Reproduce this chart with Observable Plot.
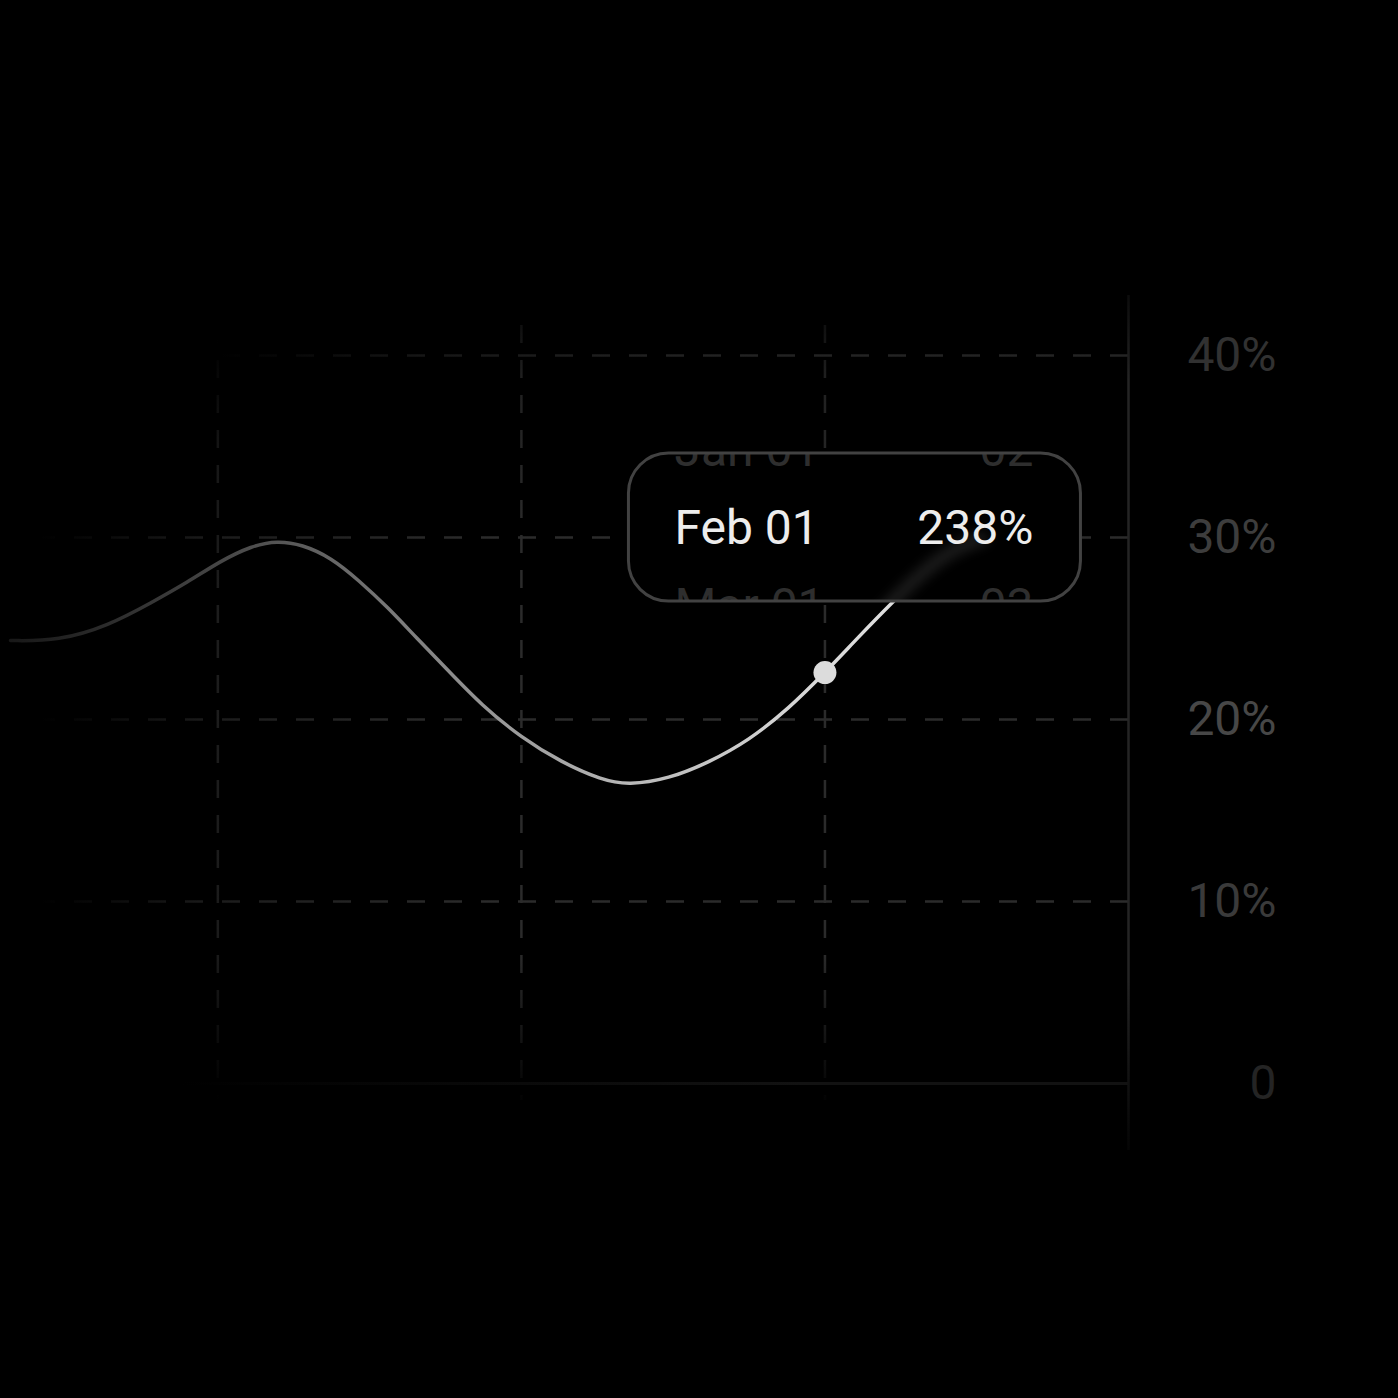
<!DOCTYPE html>
<html>
<head>
<meta charset="utf-8">
<script src="https://cdn.jsdelivr.net/npm/d3@7"></script>
<script src="https://cdn.jsdelivr.net/npm/@observablehq/plot@0.6"></script>
<style>
  html, body { margin: 0; padding: 0; background: #000; }
  #chart svg { display: block; }
</style>
</head>
<body>
<div id="chart"></div>
<script>
// ---- data (month index: 1 = Dec 01, 2 = Jan 01, 3 = Feb 01, 4 = Mar 01) ----
const monthPos = [0.317, 0.475, 0.640, 0.782, 0.901, 1.007, 1.112, 1.195, 1.277, 1.373, 1.465, 1.561, 1.653, 1.759, 1.868, 2.000, 2.132, 2.264, 2.353, 2.485, 2.617, 2.749, 2.881, 3.000, 3.112, 3.221, 3.337, 3.436, 3.535];
const values   = [0.2434, 0.2432, 0.2516, 0.2643, 0.2755, 0.2870, 0.2955, 0.2982, 0.2962, 0.2890, 0.2764, 0.2615, 0.2451, 0.2269, 0.2080, 0.1900, 0.1765, 0.1668, 0.1640, 0.1674, 0.1764, 0.1885, 0.2060, 0.2258, 0.2456, 0.2643, 0.2830, 0.2945, 0.3000];
const gridMonths = [1, 2, 3];
const axisMonth = 4;
const xDomain = [0.284, 4];
const yDomain = [-0.0368, 0.433];
const yTicks = [0, 0.1, 0.2, 0.3, 0.4];
const yTickLabels = ["0", "10%", "20%", "30%", "40%"];
const yTickColors = ["#242424", "#3a3a3a", "#474747", "#3d3d3d", "#313131"];
const focusMonth = 3;
const focusValue = 0.2258;
const tooltipDates = ["Jan 01", "Feb 01", "Mar 01"];
const tooltipValues = ["02", "238%", "03"];
const tooltipActive = 1;

const data = monthPos.map((m, i) => ({m, v: values[i]}));
const tickData = yTicks.map((t, i) => ({t, label: yTickLabels[i], color: yTickColors[i]}));
const topTick = yTicks[yTicks.length - 1];
const innerTicks = yTicks.filter(t => t > 0 && t < topTick);

const FONT = "Roboto, 'Noto Sans', sans-serif";

function addGradient(defs, id, attrs, stops) {
  const g = defs.append("linearGradient").attr("id", id).attr("gradientUnits", "userSpaceOnUse");
  Object.entries(attrs).forEach(([k, v]) => g.attr(k, v));
  stops.forEach(([o, c]) => g.append("stop").attr("offset", o).attr("stop-color", c));
}

function defsMark() {
  const defs = d3.create("svg:defs");
  const W = 1398;
  addGradient(defs, "lineGrad", {x1: 0, x2: 1000, y1: 0, y2: 0},
    [[0, "#161616"], [0.1, "#2a2a2a"], [0.28, "#555555"], [0.45, "#8c8c8c"], [0.63, "#b8b8b8"], [0.82, "#dadada"], [1, "#e6e6e6"]]);
  addGradient(defs, "axisGrad", {x1: 0, x2: 0, y1: 295, y2: 1150},
    [[0, "#0c0c0c"], [0.1, "#242424"], [0.8, "#242424"], [1, "#050505"]]);
  addGradient(defs, "baseGrad", {x1: 180, x2: 800, y1: 0, y2: 0},
    [[0, "#000000"], [1, "#121212"]]);
  addGradient(defs, "hGradA", {x1: 0, x2: W, y1: 0, y2: 0},
    [[40 / W, "#000000"], [217 / W, "#1c1c1c"], [480 / W, "#2b2b2b"], [1, "#2b2b2b"]]);
  addGradient(defs, "hGradB", {x1: 0, x2: W, y1: 0, y2: 0},
    [[220 / W, "#000000"], [420 / W, "#161616"], [700 / W, "#222222"], [1, "#252525"]]);
  addGradient(defs, "vGradA", {x1: 0, x2: 0, y1: 0, y2: W},
    [[300 / W, "#080808"], [380 / W, "#202020"], [540 / W, "#2b2b2b"], [950 / W, "#2b2b2b"], [1110 / W, "#000000"]]);
  addGradient(defs, "vGradB", {x1: 0, x2: 0, y1: 0, y2: W},
    [[340 / W, "#000000"], [460 / W, "#171717"], [620 / W, "#1d1d1d"], [950 / W, "#1b1b1b"], [1100 / W, "#000000"]]);

  const f = defs.append("filter").attr("id", "blurLine").attr("x", "-20%").attr("y", "-20%").attr("width", "140%").attr("height", "140%");
  f.append("feGaussianBlur").attr("stdDeviation", 7);
  return defs.node();
}

function tooltipMark(index, scales) {
  const x = scales.x, y = scales.y;
  const fx = x(focusMonth), fy = y(focusValue);
  const left = fx - 196, top = fy - 219, w = 452, h = 148;
  const g = d3.create("svg:g");
  g.append("clipPath").attr("id", "tipClip")
    .append("rect").attr("x", left).attr("y", top).attr("width", w).attr("height", h).attr("rx", 40);
  g.append("rect").attr("x", left).attr("y", top).attr("width", w).attr("height", h).attr("rx", 40)
    .attr("fill", "#000");
  const inner = g.append("g").attr("clip-path", "url(#tipClip)");
  const path = d3.line().x(d => x(d.m)).y(d => y(d.v)).curve(d3.curveBasis)(data);
  inner.append("path").attr("d", path).attr("fill", "none").attr("stroke", "#cfcfcf")
    .attr("stroke-width", 6).attr("opacity", 0.3).attr("filter", "url(#blurLine)");
  const rowGap = 78, cy = top + h / 2;
  tooltipDates.forEach((d, i) => {
    const ry = cy + (i - tooltipActive) * rowGap;
    const col = i === tooltipActive ? "#ededed" : "#2e2e2e";
    inner.append("text").attr("x", left + 46).attr("y", ry).attr("dy", "0.35em")
      .attr("text-anchor", "start")
      .attr("font-family", FONT).attr("font-size", 48).attr("fill", col).text(d);
    inner.append("text").attr("x", left + w - 47).attr("y", ry).attr("dy", "0.35em")
      .attr("text-anchor", "end").attr("font-family", FONT).attr("font-size", 48).attr("fill", col)
      .text(tooltipValues[i]);
  });
  g.append("rect").attr("x", left).attr("y", top).attr("width", w).attr("height", h).attr("rx", 40)
    .attr("fill", "none").attr("stroke", "#424242").attr("stroke-width", 3);
  return g.node();
}

const plot = Plot.plot({
  width: 1398,
  height: 1398,
  marginLeft: 0,
  marginRight: 270,
  marginTop: 295,
  marginBottom: 248,
  style: {background: "#000", overflow: "visible"},
  x: {domain: xDomain, axis: null},
  y: {domain: yDomain, axis: null},
  marks: [
    defsMark,
    Plot.ruleY(innerTicks, {
      x1: xDomain[0], x2: axisMonth, stroke: "url(#hGradA)", strokeWidth: 2.5, strokeDasharray: "18,19"
    }),
    Plot.ruleY([topTick], {
      x1: xDomain[0], x2: axisMonth, stroke: "url(#hGradB)", strokeWidth: 2.5, strokeDasharray: "18,19"
    }),
    Plot.ruleX(gridMonths.slice(1), {
      y1: 0.4165, y2: -0.0093, stroke: "url(#vGradA)", strokeWidth: 2.5, strokeDasharray: "18,17"
    }),
    Plot.ruleX(gridMonths.slice(0, 1), {
      y1: 0.4165, y2: -0.0093, stroke: "url(#vGradB)", strokeWidth: 2.5, strokeDasharray: "18,17"
    }),
    Plot.ruleY([0], {x1: xDomain[0], x2: axisMonth, stroke: "url(#baseGrad)", strokeWidth: 3}),
    Plot.ruleX([axisMonth], {y1: yDomain[0], y2: yDomain[1], stroke: "url(#axisGrad)", strokeWidth: 2.5}),
    Plot.line(data, {x: "m", y: "v", curve: "basis", stroke: "url(#lineGrad)", strokeWidth: 3.5}),
    Plot.dot([{m: focusMonth, v: focusValue}], {x: "m", y: "v", r: 11.5, fill: "#dcdcdc", stroke: "none"}),
    Plot.text(tickData, {
      x: axisMonth, y: "t", text: "label", fill: "color", dx: 148, textAnchor: "end",
      fontSize: 48, fontFamily: FONT
    }),
    tooltipMark
  ]
});

document.getElementById("chart").appendChild(plot);
</script>
</body>
</html>
